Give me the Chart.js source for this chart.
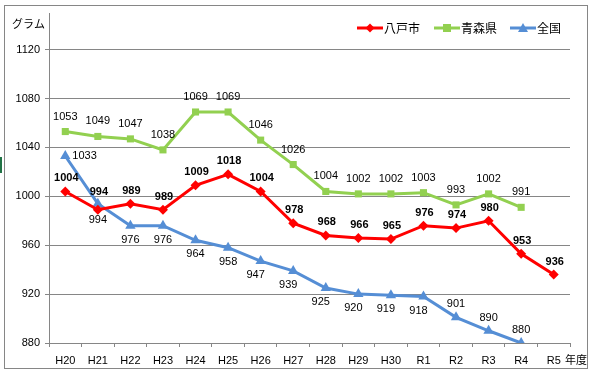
<!DOCTYPE html>
<html>
<head>
<meta charset="utf-8">
<script src="https://cdn.jsdelivr.net/npm/chart.js@4/dist/chart.umd.min.js"></script>
<style>
  html, body { margin: 0; padding: 0; background: #fff; }
  canvas { display: block; }
</style>
</head>
<body>
<canvas id="chart" width="593" height="374"></canvas>
<script>
// 年度
const years = ['H20', 'H21', 'H22', 'H23', 'H24', 'H25', 'H26', 'H27', 'H28', 'H29', 'H30', 'R1', 'R2', 'R3', 'R4', 'R5'];
// 八戸市 (point values as plotted, and label text as printed)
const hachinohe = [1004, 989, 994, 989, 1009, 1018, 1004, 978, 968, 966, 965, 976, 974, 980, 953, 936];
const hachinoheText = ['1004', '994', '989', '989', '1009', '1018', '1004', '978', '968', '966', '965', '976', '974', '980', '953', '936'];
// 青森県
const aomori = [1053, 1049, 1047, 1038, 1069, 1069, 1046, 1026, 1004, 1002, 1002, 1003, 993, 1002, 991, null];
// 全国
const national = [1033, 994, 976, 976, 964, 958, 947, 939, 925, 920, 919, 918, 901, 890, 880, null];
const yTicks = [880, 920, 960, 1000, 1040, 1080, 1120];

const RED = '#FF0000';
const GREEN = '#92D050';
const BLUE = '#558ED5';
const GRID = '#868686';
const NUM_FONT = '"Liberation Sans", Arial, sans-serif';
const JP_FONT = '"Noto Sans CJK JP", sans-serif';

function drawMarker(ctx, style, x, y, color) {
    ctx.save();
    ctx.fillStyle = color;
    ctx.beginPath();
    if (style === 'rectRot') {
        const r = 4.5;
        ctx.moveTo(x, y - r); ctx.lineTo(x + r, y); ctx.lineTo(x, y + r); ctx.lineTo(x - r, y);
    } else if (style === 'rect') {
        ctx.rect(x - 4, y - 4, 8, 8);
    } else {
        ctx.moveTo(x, y - 5); ctx.lineTo(x + 5, y + 4); ctx.lineTo(x - 5, y + 4);
    }
    ctx.closePath();
    ctx.fill();
    ctx.restore();
}

const decor = {
    id: 'decor',
    beforeDraw(chart) {
        const ctx = chart.ctx;
        ctx.save();
        ctx.fillStyle = '#fff';
        ctx.fillRect(0, 0, chart.width, chart.height);
        ctx.strokeStyle = GRID;
        ctx.lineWidth = 1;
        ctx.strokeRect(4.5, 5.5, 583, 363);
        ctx.fillStyle = '#217346';
        ctx.fillRect(0, 157, 2, 16);
        ctx.restore();
    },
    afterDatasetsDraw(chart) {
        const ctx = chart.ctx;
        ctx.save();
        ctx.fillStyle = '#000';
        ctx.textBaseline = 'middle';

        // 八戸市 labels (bold, above)
        ctx.font = 'bold 11px ' + NUM_FONT;
        ctx.textAlign = 'center';
        chart.getDatasetMeta(0).data.forEach((p, i) => {
            const dy = i === 1 ? 18 : 13;
            ctx.fillText(hachinoheText[i], p.x + 1, p.y - dy);
        });

        // 青森県 labels (above)
        ctx.font = '11px ' + NUM_FONT;
        chart.getDatasetMeta(1).data.forEach((p, i) => {
            if (aomori[i] == null) return;
            ctx.fillText(String(aomori[i]), p.x, p.y - 15);
        });

        // 全国 labels
        chart.getDatasetMeta(2).data.forEach((p, i) => {
            if (national[i] == null) return;
            const t = String(national[i]);
            if (i === 0) {
                ctx.textAlign = 'left';
                ctx.fillText(t, p.x + 7, p.y);
            } else if (i >= 12) {
                ctx.textAlign = 'center';
                ctx.fillText(t, p.x, p.y - 13);
            } else {
                ctx.textAlign = 'center';
                ctx.fillText(t, p.x - (i >= 6 ? 5 : 0), p.y + (i === 1 ? 16 : 14));
            }
        });

        // axis captions
        ctx.font = '11px ' + JP_FONT;
        ctx.textAlign = 'left';
        ctx.fillText('グラム', 12, 24);
        ctx.fillText('年度', 565, 360);

        // legend
        const items = [
            { text: '八戸市', color: RED, style: 'rectRot', x: 357 },
            { text: '青森県', color: GREEN, style: 'rect', x: 434 },
            { text: '全国', color: BLUE, style: 'triangle', x: 510 }
        ];
        ctx.font = '12px ' + JP_FONT;
        items.forEach(it => {
            ctx.strokeStyle = it.color;
            ctx.lineWidth = 3;
            ctx.beginPath();
            ctx.moveTo(it.x, 28);
            ctx.lineTo(it.x + 26, 28);
            ctx.stroke();
            drawMarker(ctx, it.style, it.x + 13, 28, it.color);
            ctx.fillStyle = '#000';
            ctx.fillText(it.text, it.x + 27, 28);
        });
        ctx.restore();
    }
};

new Chart(document.getElementById('chart').getContext('2d'), {
    type: 'line',
    data: {
        labels: years,
        datasets: [
            {
                label: '八戸市',
                data: hachinohe,
                borderColor: RED,
                backgroundColor: RED,
                borderWidth: 3,
                pointStyle: 'rectRot',
                pointRadius: 5,
                pointBorderWidth: 0,
                tension: 0
            },
            {
                label: '青森県',
                data: aomori,
                borderColor: GREEN,
                backgroundColor: GREEN,
                borderWidth: 3,
                pointStyle: 'rect',
                pointRadius: 5,
                pointBorderWidth: 0,
                tension: 0
            },
            {
                label: '全国',
                data: national,
                borderColor: BLUE,
                backgroundColor: BLUE,
                borderWidth: 3,
                pointStyle: 'triangle',
                pointRadius: 6,
                pointBorderWidth: 0,
                tension: 0
            }
        ]
    },
    options: {
        responsive: false,
        animation: false,
        devicePixelRatio: 1,
        layout: { padding: { left: 0, right: 23, top: 13, bottom: 0 } },
        plugins: {
            legend: { display: false },
            tooltip: { enabled: false }
        },
        scales: {
            x: {
                offset: true,
                grid: { offset: true, drawOnChartArea: false, drawTicks: true, tickLength: 4, color: GRID },
                border: { color: GRID },
                ticks: { color: '#000', font: { family: NUM_FONT, size: 11 }, padding: 7, maxRotation: 0, autoSkip: false },
                afterFit(s) { s.height = 31; }
            },
            y: {
                min: 880,
                max: 1150,
                afterBuildTicks(s) { s.ticks = yTicks.map(v => ({ value: v })); },
                grid: { color: GRID, tickLength: 4 },
                border: { color: GRID },
                ticks: {
                    color: '#000',
                    font: { family: NUM_FONT, size: 11 },
                    padding: 5,
                    callback: v => String(v)
                },
                afterFit(s) { s.width = 49; }
            }
        }
    },
    plugins: [decor]
});
</script>
</body>
</html>
